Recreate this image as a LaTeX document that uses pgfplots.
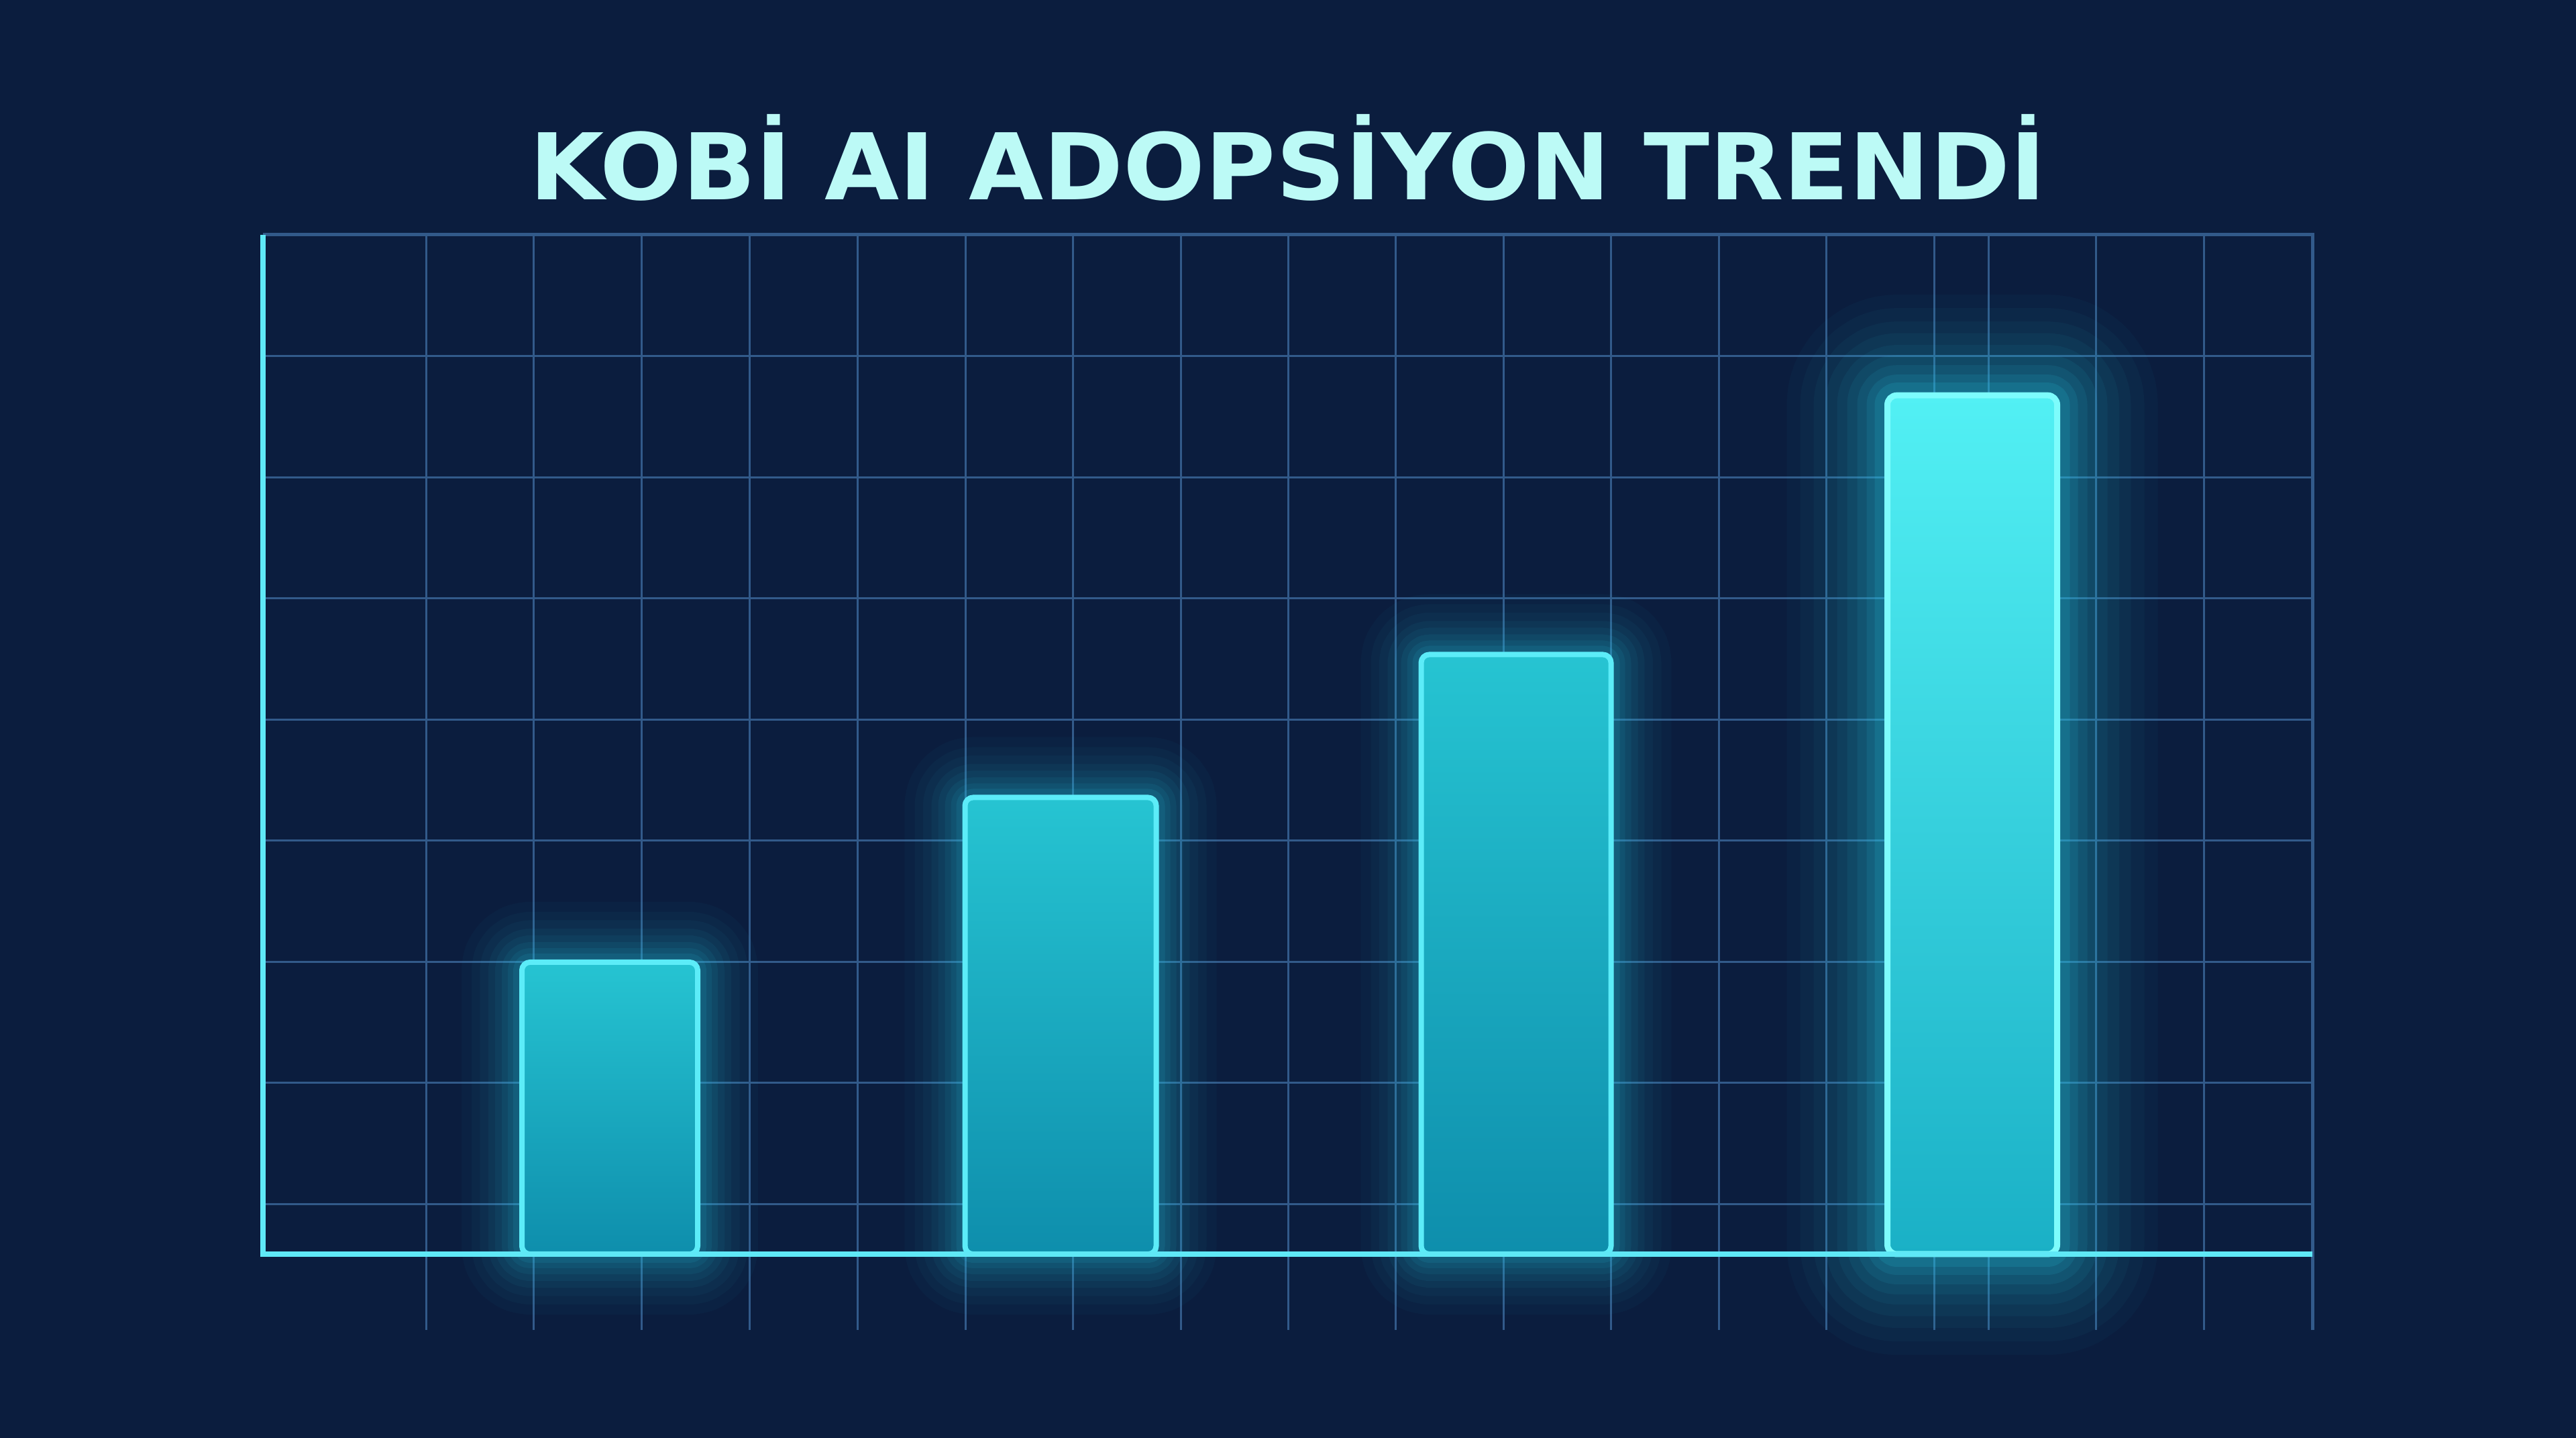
\documentclass[border=0pt]{standalone}
\usepackage{pgfplots}
\pgfplotsset{compat=1.18}
\usepackage{fontspec}
\newfontfamily\titlefont{DejaVu Sans}

\definecolor{bgc}{RGB}{11,29,62}
\definecolor{gridc}{RGB}{50,90,138}
\definecolor{axisc}{RGB}{95,232,246}
\definecolor{titlec}{RGB}{188,250,246}
\definecolor{bartop}{RGB}{38,196,210}
\definecolor{barbot}{RGB}{14,142,172}
\definecolor{barline}{RGB}{92,236,248}
\definecolor{bartopb}{RGB}{82,240,244}
\definecolor{barbotb}{RGB}{26,176,198}
\definecolor{barlineb}{RGB}{125,252,252}
\definecolor{glowc}{RGB}{40,205,232}

\tikzset{
  glow/.style={line join=round,
    preaction={draw=glowc, line width=1.8cm, draw opacity=0.03},
    preaction={draw=glowc, line width=1.5cm, draw opacity=0.035},
    preaction={draw=glowc, line width=1.25cm, draw opacity=0.04},
    preaction={draw=glowc, line width=1.0cm, draw opacity=0.05},
    preaction={draw=glowc, line width=0.8cm, draw opacity=0.06},
    preaction={draw=glowc, line width=0.6cm, draw opacity=0.07},
    preaction={draw=glowc, line width=0.42cm, draw opacity=0.08},
    preaction={draw=glowc, line width=0.26cm, draw opacity=0.1}},
  bigglow/.style={line join=round,
    preaction={draw=glowc, line width=3.0cm, draw opacity=0.03},
    preaction={draw=glowc, line width=2.6cm, draw opacity=0.035},
    preaction={draw=glowc, line width=2.2cm, draw opacity=0.045},
    preaction={draw=glowc, line width=1.85cm, draw opacity=0.05},
    preaction={draw=glowc, line width=1.5cm, draw opacity=0.06},
    preaction={draw=glowc, line width=1.2cm, draw opacity=0.07},
    preaction={draw=glowc, line width=0.9cm, draw opacity=0.09},
    preaction={draw=glowc, line width=0.62cm, draw opacity=0.11},
    preaction={draw=glowc, line width=0.38cm, draw opacity=0.14}},
}

\begin{document}
\begin{tikzpicture}
\useasboundingbox (0,0) rectangle (38.4cm,21.43cm);
\fill[bgc] (0,0) rectangle (38.4cm,21.43cm);

\node[anchor=base, inner sep=0pt, text=titlec,
      font=\titlefont\bfseries\fontsize{39}{44}\selectfont]
  at (19.2cm,18.45cm) {\resizebox{22.6cm}{\height}{KOBİ AI ADOPSİYON TRENDİ}};

\begin{axis}[
    at={(3.92cm,1.61cm)}, anchor=south west,
    scale only axis, width=30.55cm, height=16.32cm,
    xmin=392, xmax=3447, ymin=-6.26, ymax=84.15,
    axis line style={draw=none},
    tick style={draw=none},
    xticklabels={}, yticklabels={},
    xtick={635,795,956,1117,1278,1439,1599,1760,1920,2080,2241,2401,2562,2722,2883,2964,3124,3285},
    ytick={4.15,14.15,24.15,34.15,44.15,54.15,64.15,74.15},
    xmajorgrids, ymajorgrids,
    grid style={gridc, line width=0.03cm},
    clip=false,
  ]

  % bars: centre (px) and height (grid units)
  \addplot[ybar, bar width=262, bar shift=0pt, draw=barline, line width=0.08cm,
           rounded corners=0.12cm, top color=bartop, bottom color=barbot, glow]
    coordinates {(909,24.1)};
  \addplot[ybar, bar width=285, bar shift=0pt, draw=barline, line width=0.08cm,
           rounded corners=0.12cm, top color=bartop, bottom color=barbot, glow]
    coordinates {(1581,37.7)};
  \addplot[ybar, bar width=283, bar shift=0pt, draw=barline, line width=0.08cm,
           rounded corners=0.12cm, top color=bartop, bottom color=barbot, glow]
    coordinates {(2260,49.5)};
  \addplot[ybar, bar width=253, bar shift=0pt, draw=barlineb, line width=0.09cm,
           rounded corners=0.14cm, top color=bartopb, bottom color=barbotb, bigglow]
    coordinates {(2940,70.9)};

  % frame
  \draw[gridc, line width=0.05cm] (axis cs:392,84.15) -- (axis cs:3447,84.15) -- (axis cs:3447,-6.26);
  \draw[axisc, line width=0.08cm] (axis cs:392,84.15) -- (axis cs:392,0) -- (axis cs:3447,0);
\end{axis}
\end{tikzpicture}
\end{document}
